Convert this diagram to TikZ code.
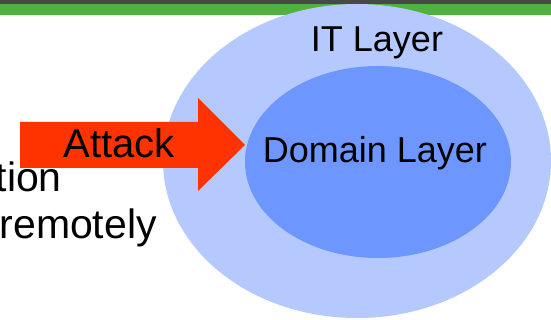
\documentclass[tikz,border=0pt]{standalone}
\usepackage{fontspec}
\setmainfont{Liberation Sans}
\definecolor{darkbar}{HTML}{484848}
\definecolor{greenbar}{HTML}{50B040}
\definecolor{outerblue}{HTML}{B5C9FF}
\definecolor{innerblue}{HTML}{6E96FF}
\definecolor{attackred}{HTML}{FF3300}
\tikzset{
  lbl/.style={font=\fontsize{36}{40}\selectfont, inner sep=0pt},
  bodytxt/.style={font=\fontsize{41}{44}\selectfont, inner sep=0pt}
}
\begin{document}
\begin{tikzpicture}[x=1pt,y=-1pt]
\useasboundingbox (0,0) rectangle (551,320);
\clip (0,0) rectangle (551,320);
\fill[white] (0,0) rectangle (551,320);
% top bars
\fill[darkbar] (0,0) rectangle (551,4);
\fill[greenbar] (0,4) rectangle (551,15);
% slide text (cut off at the left edge, as in the reference)
\node[bodytxt, anchor=base east] (t1) at (62,192) {tion};
\node[bodytxt, anchor=base east] (t2) at (157,239) {remotely};
% ellipses
\fill[outerblue] (357,161) ellipse [x radius=194, y radius=157];
\fill[innerblue] (378,162) ellipse [x radius=133, y radius=96];
\node[lbl, anchor=base] (it) at (377,52) {IT Layer};
\node[lbl, anchor=base] (dom) at (375,163) {Domain Layer};
% attack arrow
\fill[attackred] (20,122) -- (198,122) -- (198,98) -- (245,145) -- (198,191) -- (198,168) -- (20,168) -- cycle;
\node[lbl, font=\fontsize{40}{44}\selectfont, anchor=base] (att) at (119,158) {Attack};
\end{tikzpicture}
\end{document}
